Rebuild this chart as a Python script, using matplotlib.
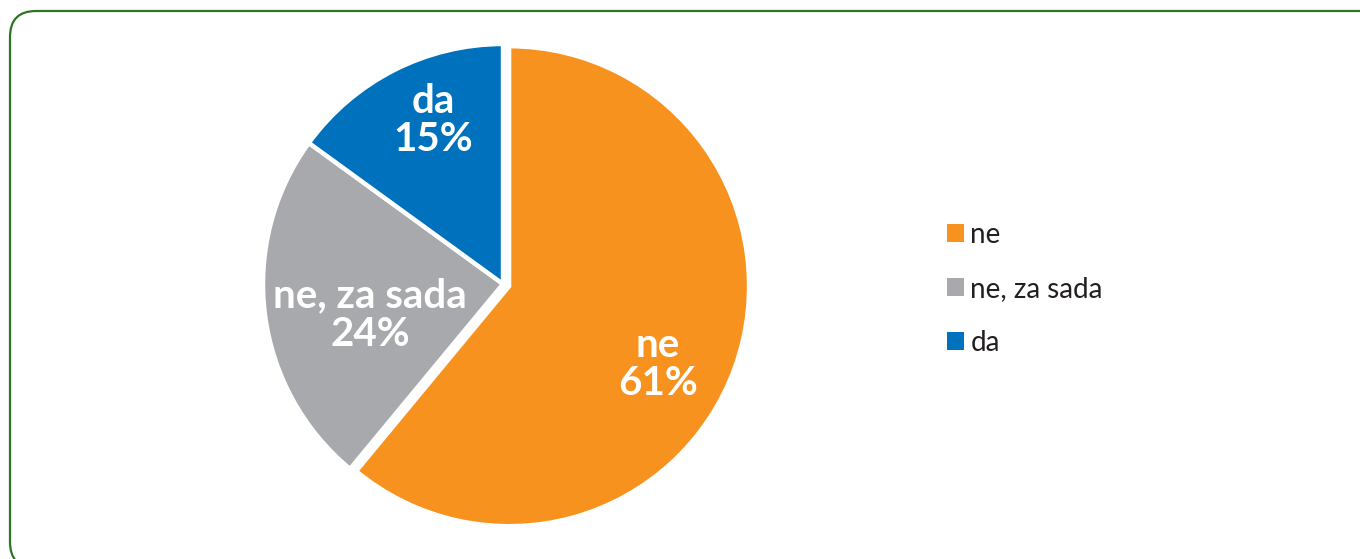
import matplotlib.pyplot as plt
import numpy as np
from matplotlib.patches import FancyBboxPatch

labels = ["ne", "ne, za sada", "da"]
shares = [61, 24, 15]
colors = ["#F7921E", "#A7A9AC", "#0071BC"]
explode = [0.027, 0, 0]

# label placement inside slices: radial distance and angle tweak (deg)
label_dist = [0.70, 0.57, 0.74]
label_turn = [-8, 6, -4]

plt.rcParams['font.family'] = ['Lato', 'DejaVu Sans']

fig = plt.figure(figsize=(13.6, 5.59), dpi=100)

# pie axes placed in pixels: centre ~ (503, 275 from bottom), radius 240 px
W, H = 1360, 559
half = 1.1 * 240
ax = fig.add_axes([(503 - half) / W, (275 - half) / H, 2 * half / W, 2 * half / H])

wedges, _ = ax.pie(shares, colors=colors, explode=explode, startangle=90,
                   counterclock=False, radius=1,
                   wedgeprops=dict(edgecolor="white", linewidth=3.2))
ax.set_xlim(-1.1, 1.1)
ax.set_ylim(-1.1, 1.1)
ax.set_aspect('equal')
ax.axis('off')

for w, lab, val, d, t in zip(wedges, labels, shares, label_dist, label_turn):
    mid = np.deg2rad((w.theta1 + w.theta2) / 2 + t)
    cx, cy = w.center
    ax.text(cx + d * np.cos(mid), cy + d * np.sin(mid), f"{lab}\n{val}%",
            ha='center', va='center', color='white', fontsize=29,
            fontweight='bold', linespacing=1.05)

leg = fig.legend(wedges, labels, loc='center left',
                 bbox_to_anchor=(947 / W, 1 - 289 / H),
                 frameon=False, fontsize=20, handlelength=0.62,
                 handleheight=0.62, handletextpad=0.22, labelspacing=1.0,
                 borderpad=0, borderaxespad=0)
for txt in leg.get_texts():
    txt.set_color("#231F20")
for h in leg.legend_handles:
    h.set_edgecolor("none")

# rounded green frame around the chart
frame = FancyBboxPatch((0.10, -0.09), 13.77, 5.57,
                       boxstyle="round,pad=0,rounding_size=0.26",
                       transform=fig.dpi_scale_trans, facecolor='none',
                       edgecolor="#2E7423", linewidth=1.6, clip_on=False)
fig.patches.append(frame)

fig.savefig("out.png", dpi=100)
